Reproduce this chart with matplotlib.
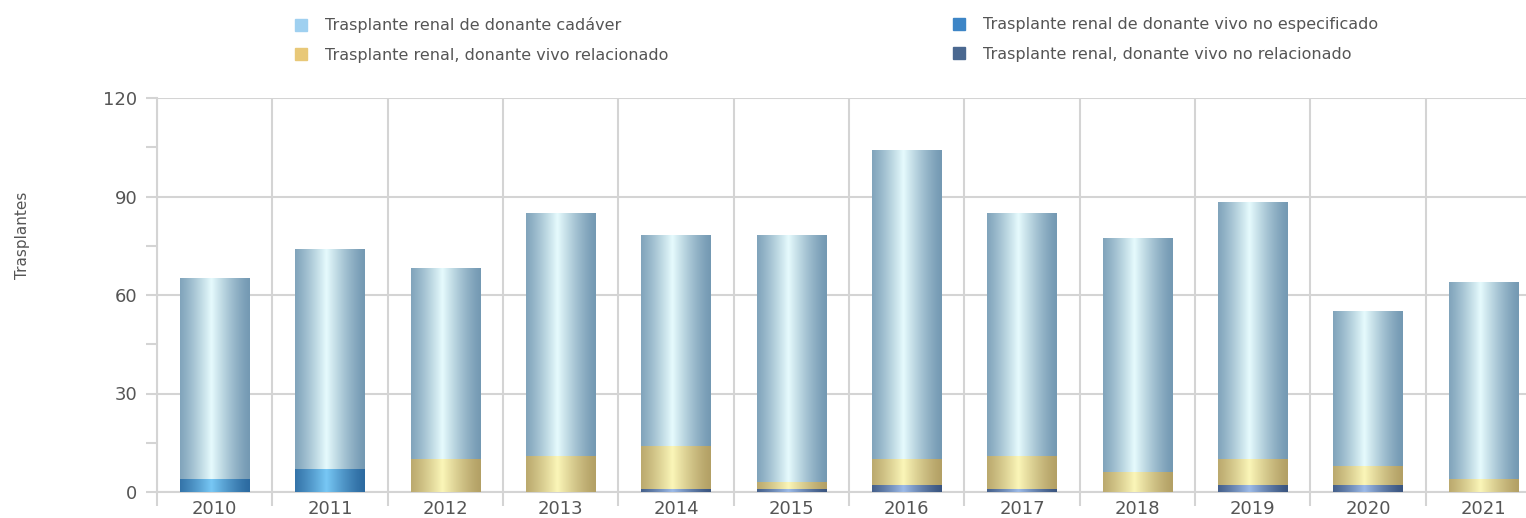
import numpy as np
import matplotlib.pyplot as plt
from matplotlib.lines import Line2D
from matplotlib.colors import to_rgb

# datos
anios = ['2010', '2011', '2012', '2013', '2014', '2015',
         '2016', '2017', '2018', '2019', '2020', '2021']
no_relacionado = [0, 0, 0, 0, 1, 1, 2, 1, 0, 2, 2, 0]
no_especificado = [4, 7, 0, 0, 0, 0, 0, 0, 0, 0, 0, 0]
relacionado = [0, 0, 10, 11, 13, 2, 8, 10, 6, 8, 6, 4]
cadaver = [61, 67, 58, 74, 64, 75, 94, 74, 71, 78, 47, 60]

series = [
    ('Trasplante renal, donante vivo no relacionado', no_relacionado, '#4a6890', ('#3a5580', '#9dbbe8')),
    ('Trasplante renal de donante vivo no especificado', no_especificado, '#3d85c6', ('#2c6aa0', '#78c8f5')),
    ('Trasplante renal, donante vivo relacionado', relacionado, '#e8c878', ('#b3a065', '#fbf6b8')),
    ('Trasplante renal de donante cadáver', cadaver, '#9fd0f0', ('#7499b3', '#e6fbfd')),
]

gris = '#555555'
rejilla = '#d4d4d4'

fig = plt.figure(figsize=(15.26, 5.18), dpi=100)
ax = fig.add_axes([157 / 1526, 1 - 492 / 518, 1 - 157 / 1526, (492 - 98) / 518])

x = np.arange(len(anios))
ancho = 0.6


def degradado(borde, brillo, n=200):
    # perfil tipo cilindro: claro cerca del centro, oscuro en los bordes
    t = np.linspace(0, 1, n)
    f = np.clip(1 - np.abs(t - 0.45) / 0.55, 0, 1) ** 1.3
    b = np.array(to_rgb(borde))
    c = np.array(to_rgb(brillo))
    return (b[None, :] * (1 - f[:, None]) + c[None, :] * f[:, None])[None, :, :]


base = np.zeros(len(anios))
for nombre, valores, color, (borde, brillo) in series:
    valores = np.array(valores, dtype=float)
    barras = ax.bar(x, valores, ancho, bottom=base, color=color, zorder=3)
    img = degradado(borde, brillo)
    for p in barras.patches:
        if p.get_height() <= 0:
            continue
        x0, y0 = p.get_x(), p.get_y()
        ax.imshow(img, extent=[x0, x0 + p.get_width(), y0, y0 + p.get_height()],
                  aspect='auto', zorder=4, interpolation='bilinear')
    base = base + valores

ax.set_xlim(-0.5, 11.37)
ax.set_ylim(0, 120)

ax.set_yticks([0, 30, 60, 90, 120])
ax.set_yticks([15, 45, 75, 105], minor=True)
ax.set_xticks(x)
ax.set_xticklabels(anios)
ax.set_xticks(np.arange(-0.5, 11.4, 1), minor=True)

ax.tick_params(axis='x', which='major', length=0, labelsize=13, labelcolor=gris, pad=6)
ax.tick_params(axis='x', which='minor', length=10, color=rejilla, width=1.5)
ax.tick_params(axis='y', which='both', length=8, color=rejilla, width=1.5,
               labelsize=13, labelcolor=gris, pad=6)

ax.grid(axis='y', which='major', color=rejilla, linewidth=1.5, zorder=0)
ax.grid(axis='x', which='minor', color=rejilla, linewidth=1.5, zorder=0)
ax.set_axisbelow(True)

for lado in ['top', 'right']:
    ax.spines[lado].set_visible(False)
ax.spines['left'].set_color(rejilla)
ax.spines['left'].set_linewidth(1.5)
ax.spines['bottom'].set_color(rejilla)
ax.spines['bottom'].set_linewidth(1.5)

fig.text(23 / 1526, 1 - 235 / 518, 'Trasplantes', rotation=90, va='center', ha='center',
         fontsize=11, color=gris)

# leyenda en dos columnas
handles = {}
for nombre, valores, color, _ in series:
    handles[nombre] = Line2D([], [], marker='s', linestyle='none', markersize=8,
                             markerfacecolor=color, markeredgecolor=color)
izq = ['Trasplante renal de donante cadáver', 'Trasplante renal, donante vivo relacionado']
der = ['Trasplante renal de donante vivo no especificado', 'Trasplante renal, donante vivo no relacionado']
for nombres, xpos in [(izq, 277 / 1526), (der, 935 / 1526)]:
    fig.legend([handles[n] for n in nombres], nombres, loc='upper left',
               bbox_to_anchor=(xpos, 1 - 3 / 518), frameon=False, fontsize=11.5,
               labelcolor=gris, handletextpad=0.9, labelspacing=0.9, handlelength=1.2)

plt.savefig('out.png', dpi=100)
